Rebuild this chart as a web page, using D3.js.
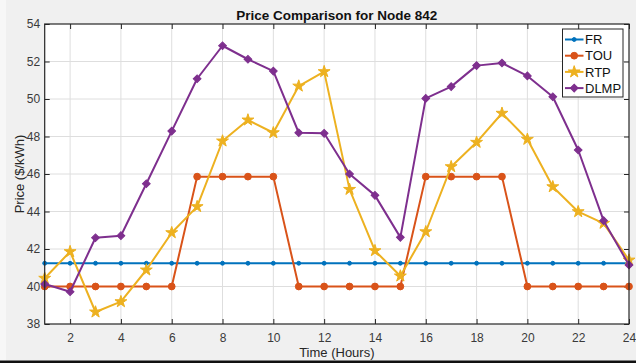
<!DOCTYPE html>
<html>
<head>
<meta charset="utf-8">
<script src="https://cdn.jsdelivr.net/npm/d3@7/dist/d3.min.js"></script>
<style>
  html, body { margin: 0; padding: 0; background: #f0f0f0; }
  svg { display: block; font-family: "Liberation Sans", Arial, Helvetica, sans-serif; }
</style>
</head>
<body>
<svg id="chart" width="636" height="363"></svg>
<script>
// Hourly price data for Node 842
const hours = d3.range(1, 25);
const frPrice = [41.24, 41.24, 41.24, 41.24, 41.24, 41.24, 41.24, 41.24, 41.24, 41.24, 41.24, 41.24,
                 41.24, 41.24, 41.24, 41.24, 41.24, 41.24, 41.24, 41.24, 41.24, 41.24, 41.24, 41.24];
const touPrice = [40, 40, 40, 40, 40, 40, 45.86, 45.86, 45.86, 45.86, 40, 40,
                  40, 40, 40, 45.86, 45.86, 45.86, 45.86, 40, 40, 40, 40, 40];
const rtpPrice = [40.44, 41.86, 38.64, 39.19, 40.88, 42.87, 44.26, 47.76, 48.88, 48.20, 50.69, 51.46,
                  45.18, 41.91, 40.56, 42.92, 46.39, 47.69, 49.24, 47.85, 45.32, 43.99, 43.37, 41.41];
const dlmpPrice = [40.13, 39.72, 42.60, 42.71, 45.48, 48.29, 51.08, 52.84, 52.12, 51.49, 48.20, 48.17,
                   46.00, 44.86, 42.62, 50.03, 50.66, 51.78, 51.92, 51.23, 50.12, 47.28, 43.51, 41.15];

const xTicks = [2, 4, 6, 8, 10, 12, 14, 16, 18, 20, 22, 24];
const yTicks = [38, 40, 42, 44, 46, 48, 50, 52, 54];

const seriesNames = ["FR", "TOU", "RTP", "DLMP"];
const seriesValues = [frPrice, touPrice, rtpPrice, dlmpPrice];
const seriesColors = ["#0072BD", "#D95319", "#EDB120", "#7E2F8E"];
const seriesMarkers = ["dot", "circle", "star", "diamond"];

const svg = d3.select("#chart");
const W = 636, H = 363;
const m = { left: 44.7, right: 629, top: 24, bottom: 324 };

// figure background
svg.append("rect").attr("x", 0).attr("y", 0).attr("width", W).attr("height", H).attr("fill", "#f0f0f0");
svg.append("rect").attr("x", 0).attr("y", 0).attr("width", 6).attr("height", H).attr("fill", "#f7f7f7");
svg.append("rect").attr("x", 0).attr("y", 360.5).attr("width", W).attr("height", 3).attr("fill", "#111");

const x = d3.scaleLinear().domain([1, 24]).range([m.left, m.right]);
const y = d3.scaleLinear().domain([38, 54]).range([m.bottom, m.top]);

// plot area
svg.append("rect")
  .attr("x", m.left).attr("y", m.top)
  .attr("width", m.right - m.left).attr("height", m.bottom - m.top)
  .attr("fill", "#ffffff");

// grid
const grid = svg.append("g").attr("stroke", "#dedede").attr("stroke-width", 1);
grid.selectAll("line.gx").data(xTicks.filter(t => t < 24)).join("line")
  .attr("x1", d => x(d)).attr("x2", d => x(d))
  .attr("y1", m.top).attr("y2", m.bottom);
grid.selectAll("line.gy").data(yTicks.filter(t => t > 38 && t < 54)).join("line")
  .attr("y1", d => y(d)).attr("y2", d => y(d))
  .attr("x1", m.left).attr("x2", m.right);

// axes with inward ticks
const axisColor = "#262626";
const tickLen = 5;
const xAxis = d3.axisBottom(x).tickValues(xTicks).tickSizeInner(-tickLen).tickSizeOuter(0).tickPadding(9);
const yAxis = d3.axisLeft(y).tickValues(yTicks).tickSizeInner(-tickLen).tickSizeOuter(0).tickPadding(4.5);
const xTop = d3.axisTop(x).tickValues(xTicks).tickSizeInner(-tickLen).tickSizeOuter(0).tickFormat("");
const yRight = d3.axisRight(y).tickValues(yTicks).tickSizeInner(-tickLen).tickSizeOuter(0).tickFormat("");

function styleAxis(g) {
  g.select(".domain").remove();
  g.selectAll(".tick line").attr("stroke", axisColor).attr("stroke-width", 1);
  g.selectAll(".tick text").attr("fill", "#3a3a3a").attr("font-size", 12)
    .attr("font-family", "'Liberation Sans', Arial, sans-serif");
}
svg.append("g").attr("transform", `translate(0,${m.bottom})`).call(xAxis).call(styleAxis);
svg.append("g").attr("transform", `translate(${m.left},0)`).call(yAxis).call(styleAxis);
svg.append("g").attr("transform", `translate(0,${m.top})`).call(xTop).call(styleAxis);
svg.append("g").attr("transform", `translate(${m.right},0)`).call(yRight).call(styleAxis);

// series lines and markers
const line = d3.line().x((d, i) => x(hours[i])).y(d => y(d));
const plot = svg.append("g");

function markerPath(kind) {
  if (kind === "star") return d3.symbol().type(d3.symbolStar).size(44)();
  if (kind === "diamond") return d3.symbol().type(d3.symbolSquare).size(30)();
  if (kind === "circle") return d3.symbol().type(d3.symbolCircle).size(36)();
  return d3.symbol().type(d3.symbolCircle).size(12)();
}
function markerTransform(kind, px, py) {
  return kind === "diamond" ? `translate(${px},${py}) rotate(45)` : `translate(${px},${py})`;
}

seriesValues.forEach((vals, si) => {
  const g = plot.append("g");
  g.append("path").datum(vals)
    .attr("d", line)
    .attr("fill", "none")
    .attr("stroke", seriesColors[si])
    .attr("stroke-width", 2)
    .attr("stroke-linejoin", "round");
  g.selectAll("path.mk").data(vals).join("path")
    .attr("class", "mk")
    .attr("d", markerPath(seriesMarkers[si]))
    .attr("transform", (d, i) => markerTransform(seriesMarkers[si], x(hours[i]), y(d)))
    .attr("fill", seriesColors[si])
    .attr("stroke", seriesColors[si])
    .attr("stroke-width", 1);
});

// axes box
svg.append("rect")
  .attr("x", m.left).attr("y", m.top)
  .attr("width", m.right - m.left).attr("height", m.bottom - m.top)
  .attr("fill", "none").attr("stroke", axisColor).attr("stroke-width", 1.2);

// title and axis labels
svg.append("text").attr("x", (m.left + m.right) / 2).attr("y", 19.5)
  .attr("text-anchor", "middle").attr("font-size", 13.5).attr("font-weight", "bold")
  .attr("fill", "#111").text("Price Comparison for Node 842");
svg.append("text").attr("x", (m.left + m.right) / 2).attr("y", 357)
  .attr("text-anchor", "middle").attr("font-size", 13).attr("fill", "#262626")
  .text("Time (Hours)");
svg.append("text")
  .attr("transform", `translate(23.5,${(m.top + m.bottom) / 2}) rotate(-90)`)
  .attr("text-anchor", "middle").attr("font-size", 13).attr("fill", "#262626")
  .text("Price ($/kWh)");

// legend
const lg = svg.append("g");
lg.append("rect").attr("x", 562.5).attr("y", 29).attr("width", 60.5).attr("height", 68)
  .attr("fill", "#ffffff").attr("stroke", axisColor).attr("stroke-width", 1);
seriesNames.forEach((name, i) => {
  const ly = 39.5 + i * 16.2;
  lg.append("line").attr("x1", 565).attr("x2", 583.5).attr("y1", ly).attr("y2", ly)
    .attr("stroke", seriesColors[i]).attr("stroke-width", 2);
  lg.append("path").attr("d", markerPath(seriesMarkers[i]))
    .attr("transform", markerTransform(seriesMarkers[i], 574.2, ly))
    .attr("fill", seriesColors[i]).attr("stroke", seriesColors[i]);
  lg.append("text").attr("x", 585).attr("y", ly + 4.6)
    .attr("font-size", 13).attr("fill", "#111").text(name);
});
</script>
</body>
</html>
